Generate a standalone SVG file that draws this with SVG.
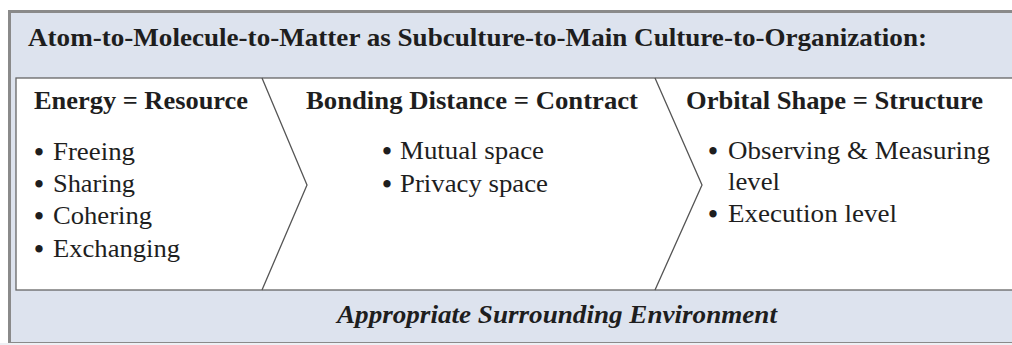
<svg xmlns="http://www.w3.org/2000/svg" width="1012" height="345" viewBox="0 0 1012 345">
<style>
text{font-family:"Liberation Serif","Times New Roman",serif;fill:#1e1e1e}
.t{font-size:25px;font-weight:bold}
.h{font-size:26px;font-weight:bold}
.b{font-size:25px}
.bu{font-size:27px;font-weight:bold;text-anchor:middle}
.f{font-size:25px;font-weight:bold;font-style:italic}
.chev{fill:none;stroke:#555;stroke-width:1.3}
</style>
<rect width="1012" height="345" fill="#ffffff"/>
<g id="frame">
<rect x="9.5" y="11.5" width="1010" height="332" fill="#dde3ee" stroke="#8a8a8a" stroke-width="3"/>
<rect x="0" y="343" width="1012" height="2" fill="#eef0f4"/>
<rect x="16" y="78" width="1000" height="212" fill="#ffffff" stroke="#666" stroke-width="1.3"/>
</g>
<g id="title">
<text class="t" x="28" y="46" textLength="899" lengthAdjust="spacingAndGlyphs">Atom-to-Molecule-to-Matter as Subculture-to-Main Culture-to-Organization:</text>
</g>
<g id="connectors">
<polyline class="chev" points="262,78 307,185 262,290"/>
<polyline class="chev" points="655,78 702,185 655,290"/>
</g>
<g id="node-energy">
<text class="h" x="34" y="109" textLength="214" lengthAdjust="spacingAndGlyphs">Energy = Resource</text>
<text class="bu" x="39" y="161">•</text><text class="b" x="53" y="160" textLength="82" lengthAdjust="spacingAndGlyphs">Freeing</text>
<text class="bu" x="39" y="193">•</text><text class="b" x="53" y="192" textLength="82" lengthAdjust="spacingAndGlyphs">Sharing</text>
<text class="bu" x="39" y="225">•</text><text class="b" x="53" y="224" textLength="99" lengthAdjust="spacingAndGlyphs">Cohering</text>
<text class="bu" x="39" y="258">•</text><text class="b" x="53" y="257" textLength="127" lengthAdjust="spacingAndGlyphs">Exchanging</text>
</g>
<g id="node-bonding">
<text class="h" x="306" y="109" textLength="332" lengthAdjust="spacingAndGlyphs">Bonding Distance = Contract</text>
<text class="bu" x="387" y="160">•</text><text class="b" x="400" y="159" textLength="144" lengthAdjust="spacingAndGlyphs">Mutual space</text>
<text class="bu" x="387" y="193">•</text><text class="b" x="400" y="192" textLength="148" lengthAdjust="spacingAndGlyphs">Privacy space</text>
</g>
<g id="node-orbital">
<text class="h" x="686" y="109" textLength="297" lengthAdjust="spacingAndGlyphs">Orbital Shape = Structure</text>
<text class="bu" x="713" y="160">•</text><text class="b" x="728" y="159" textLength="262" lengthAdjust="spacingAndGlyphs">Observing &amp; Measuring</text>
<text class="b" x="728" y="190" textLength="52" lengthAdjust="spacingAndGlyphs">level</text>
<text class="bu" x="713" y="223">•</text><text class="b" x="728" y="222" textLength="169" lengthAdjust="spacingAndGlyphs">Execution level</text>
</g>
<g id="footer">
<text class="f" x="337" y="323" textLength="440" lengthAdjust="spacingAndGlyphs">Appropriate Surrounding Environment</text>
</g>
</svg>
